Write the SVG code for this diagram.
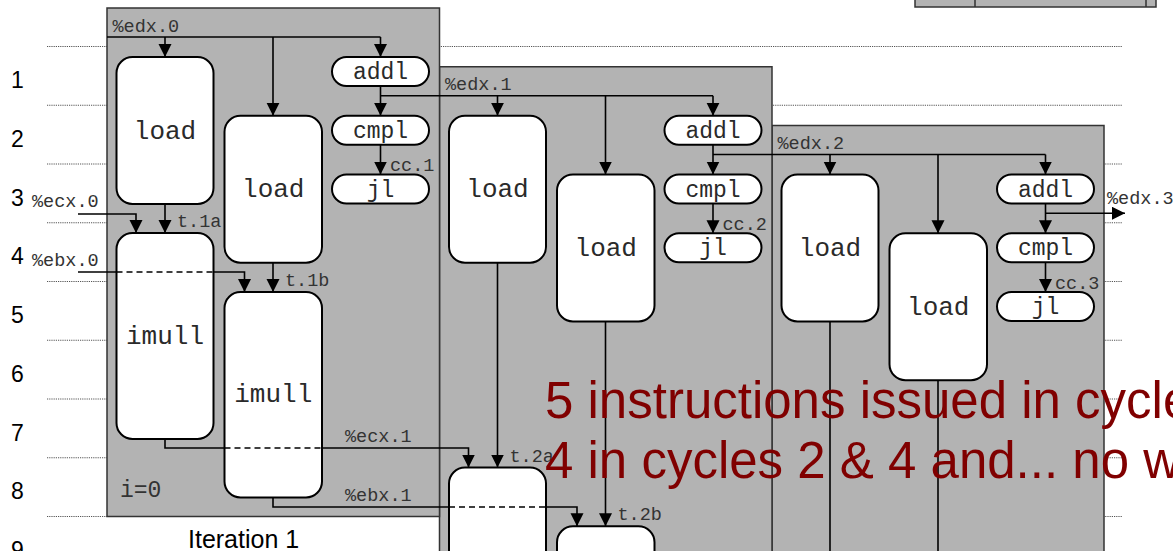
<svg xmlns="http://www.w3.org/2000/svg" width="1173" height="551" viewBox="0 0 1173 551">
<defs>
<marker id="ah" markerUnits="userSpaceOnUse" markerWidth="14" markerHeight="14" refX="13" refY="6.5" orient="auto">
<path d="M0,0 L13,6.5 L0,13 z" fill="#000"/>
</marker>
<style>
.panel{fill:#b3b3b3;stroke:#333;stroke-width:1.5}
.grid{stroke:#555;stroke-width:1;stroke-dasharray:1.2 1;fill:none}
.node{fill:#fff;stroke:#000;stroke-width:2}
.nt{font-family:"Liberation Mono","Courier New",monospace;fill:#2a2a2a;text-anchor:middle}
.big{font-size:26px}
.pill{font-size:23px}
.lbl{font-family:"Liberation Mono","Courier New",monospace;font-size:18.5px;fill:#333}
.c{fill:none;stroke:#000;stroke-width:1.6}
.a{marker-end:url(#ah)}
.d{stroke-dasharray:6 4}
.num{font-family:"Liberation Sans",Arial,sans-serif;font-size:23px;fill:#000}
.red{font-family:"Liberation Sans",Arial,sans-serif;font-size:51px;fill:#800000}
</style>
</defs>
<rect width="1173" height="551" fill="#fff"/>
<g id="grid">
<path class="grid" d="M47,46.5H1122M47,105.25H1122M47,164H1122M47,222.75H1122M47,281.5H1122M47,340.25H1122M47,399H1122M47,457.75H1122M47,516.5H1122"/>
</g>
<g id="topbox">
<rect x="915" y="-2" width="241" height="9" class="panel"/>
<path d="M975,0V7M1146,0V7" stroke="#333" stroke-width="1.5"/>
</g>
<g id="cycles">
<text class="num" x="11" y="88">1</text>
<text class="num" x="11" y="146.75">2</text>
<text class="num" x="11" y="205.5">3</text>
<text class="num" x="11" y="264.25">4</text>
<text class="num" x="11" y="323">5</text>
<text class="num" x="11" y="381.75">6</text>
<text class="num" x="11" y="440.5">7</text>
<text class="num" x="11" y="499.25">8</text>
<text class="num" x="11" y="558">9</text>
</g>
<g id="panel3"><rect class="panel" x="772" y="125.5" width="332" height="480"/></g>
<g id="panel2"><rect class="panel" x="439.5" y="66.75" width="332.5" height="520"/></g>
<g id="panel1"><rect class="panel" x="107" y="8" width="332.5" height="508.5"/>
<text x="120" y="497" style="font-family:'Liberation Mono','Courier New',monospace;font-size:23px;fill:#333">i=0</text>
</g>
<text x="188" y="548" style="font-family:'Liberation Sans',Arial,sans-serif;font-size:25px;fill:#000">Iteration 1</text>

<g id="i1-loadA"><rect class="node" x="116.5" y="57" width="97" height="147" rx="16"/><text class="nt big" x="165" y="138.5">load</text></g>
<g id="i1-loadB"><rect class="node" x="224.5" y="115.75" width="97.5" height="147" rx="16"/><text class="nt big" x="273.25" y="197.25">load</text></g>
<g id="i1-addl"><rect class="node" x="332" y="57" width="97" height="29" rx="14.5"/><text class="nt pill" x="380.5" y="79">addl</text></g>
<g id="i1-cmpl"><rect class="node" x="332" y="115.75" width="97" height="29" rx="14.5"/><text class="nt pill" x="380.5" y="137.75">cmpl</text></g>
<g id="i1-jl"><rect class="node" x="332" y="174.5" width="97" height="29" rx="14.5"/><text class="nt pill" x="380.5" y="196.5">jl</text></g>
<g id="i1-imullA"><rect class="node" x="116.5" y="233" width="97" height="206" rx="16"/><text class="nt big" x="165" y="343.5">imull</text></g>
<g id="i1-imullB"><rect class="node" x="224.5" y="292" width="97.5" height="205.5" rx="16"/><text class="nt big" x="273.25" y="402.25">imull</text></g>

<g id="i2-loadA"><rect class="node" x="449" y="115.75" width="97" height="147" rx="16"/><text class="nt big" x="497.5" y="197.25">load</text></g>
<g id="i2-loadB"><rect class="node" x="557" y="174.5" width="97.5" height="147" rx="16"/><text class="nt big" x="605.75" y="256">load</text></g>
<g id="i2-addl"><rect class="node" x="664.5" y="115.75" width="97" height="29" rx="14.5"/><text class="nt pill" x="713" y="137.75">addl</text></g>
<g id="i2-cmpl"><rect class="node" x="664.5" y="174.5" width="97" height="29" rx="14.5"/><text class="nt pill" x="713" y="196.5">cmpl</text></g>
<g id="i2-jl"><rect class="node" x="664.5" y="233.25" width="97" height="29" rx="14.5"/><text class="nt pill" x="713" y="255.25">jl</text></g>
<g id="i2-imullA"><rect class="node" x="449" y="467.5" width="97" height="206" rx="16"/></g>
<g id="i2-imullB"><rect class="node" x="557" y="526.25" width="97.5" height="205.5" rx="16"/></g>

<g id="i3-loadA"><rect class="node" x="781.5" y="174.5" width="97" height="147" rx="16"/><text class="nt big" x="830" y="256">load</text></g>
<g id="i3-loadB"><rect class="node" x="889.5" y="233.25" width="97.5" height="147" rx="16"/><text class="nt big" x="938.25" y="314.75">load</text></g>
<g id="i3-addl"><rect class="node" x="997" y="174.5" width="97" height="29" rx="14.5"/><text class="nt pill" x="1045.5" y="196.5">addl</text></g>
<g id="i3-cmpl"><rect class="node" x="997" y="233.25" width="97" height="29" rx="14.5"/><text class="nt pill" x="1045.5" y="255.25">cmpl</text></g>
<g id="i3-jl"><rect class="node" x="997" y="292" width="97" height="29" rx="14.5"/><text class="nt pill" x="1045.5" y="314">jl</text></g>

<g id="connectors">
<path class="c" d="M107,37H380.5"/>
<path class="c a" d="M165,37V57"/>
<path class="c a" d="M273,37V115.75"/>
<path class="c a" d="M380.5,37V57"/>
<path class="c a" d="M380.5,86V115.75"/>
<path class="c" d="M380.5,95.75H713"/>
<path class="c a" d="M380.5,144.75V174.5"/>
<path class="c a" d="M165,204V233"/>
<path class="c a" d="M273,262.75V292"/>
<path class="c a" d="M78,214H136V233"/>
<path class="c" d="M78,272H116.5"/>
<path class="c d" d="M116.5,272H213.5"/>
<path class="c a" d="M213.5,272H244.5V292"/>
<path class="c" d="M165,439V448H224.5"/>
<path class="c d" d="M224.5,448H322"/>
<path class="c a" d="M322,448H468.5V467.5"/>
<path class="c" d="M273,497.5V507H449"/>
<path class="c d" d="M449,507H546"/>
<path class="c a" d="M546,507H577V526.25"/>

<path class="c a" d="M497.5,95.75V115.75"/>
<path class="c a" d="M605.5,95.75V174.5"/>
<path class="c a" d="M713,95.75V115.75"/>
<path class="c a" d="M713,144.75V174.5"/>
<path class="c" d="M713,154.5H1045.5"/>
<path class="c a" d="M713,203.5V233.25"/>
<path class="c a" d="M497.5,262.75V467.5"/>
<path class="c a" d="M605.5,321.5V526.25"/>

<path class="c a" d="M830,154.5V174.5"/>
<path class="c a" d="M938,154.5V233.25"/>
<path class="c a" d="M1045.5,154.5V174.5"/>
<path class="c a" d="M1045.5,203.5V233.25"/>
<path class="c a" d="M1045.5,213.25H1125"/>
<path class="c a" d="M1045.5,262.25V292"/>
<path class="c" d="M830,321.5V551"/>
<path class="c" d="M938,380.25V551"/>
</g>
<g id="labels">
<text class="lbl" x="112.5" y="31.5">%edx.0</text>
<text class="lbl" x="445" y="90.25">%edx.1</text>
<text class="lbl" x="777.5" y="149">%edx.2</text>
<text class="lbl" x="1107" y="204">%edx.3</text>
<text class="lbl" x="390" y="171">cc.1</text>
<text class="lbl" x="722.5" y="229.75">cc.2</text>
<text class="lbl" x="1055" y="288.5">cc.3</text>
<text class="lbl" x="177" y="226.5">t.1a</text>
<text class="lbl" x="285" y="285.5">t.1b</text>
<text class="lbl" x="509.5" y="461.5">t.2a</text>
<text class="lbl" x="617.5" y="519.5">t.2b</text>
<text class="lbl" x="32" y="207">%ecx.0</text>
<text class="lbl" x="32" y="266">%ebx.0</text>
<text class="lbl" x="345" y="442">%ecx.1</text>
<text class="lbl" x="345" y="501">%ebx.1</text>
</g>
<g id="note">
<text class="red" x="545" y="418">5 instructions issued in cycle</text>
<text class="red" x="545" y="478">4 in cycles 2 &amp; 4 and... no w</text>
</g>
</svg>
